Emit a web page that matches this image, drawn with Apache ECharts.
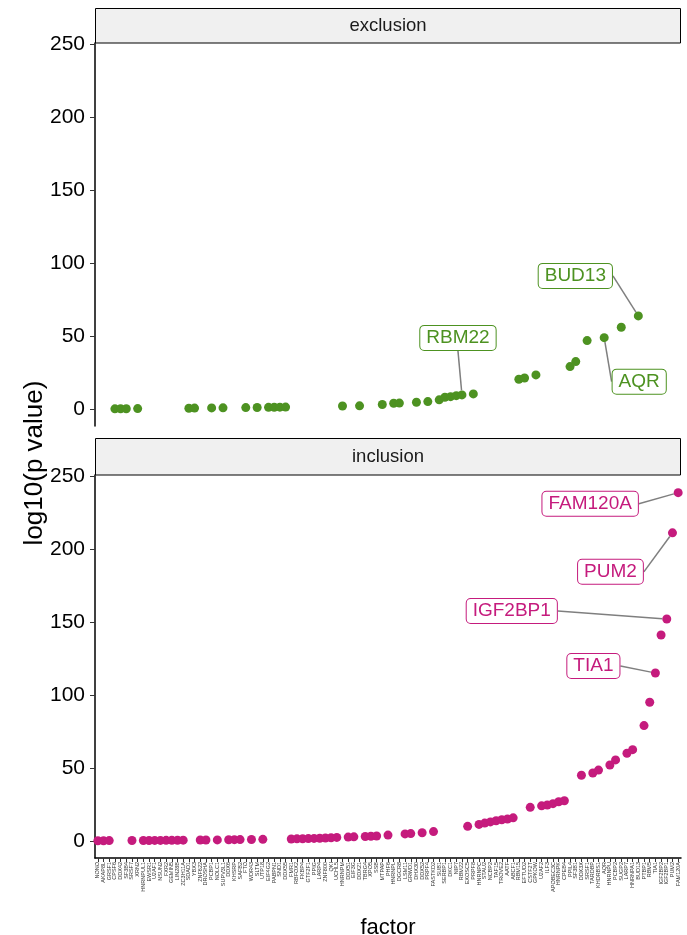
<!DOCTYPE html>
<html><head><meta charset="utf-8">
<script src="https://cdn.jsdelivr.net/npm/echarts@6/dist/echarts.min.js"></script>
<style>html,body{margin:0;padding:0;background:#fff}#c{width:687px;height:935px}</style>
</head><body><div id="c"></div>
<script>
const factors = [
 'NONO','AKAP8L','GRSF1','CPSF6','DDX42','SF3B4','SRSF7','XRN2','HNRNPUL1','EWSR1',
 'U2AF1','NSUN2','FXR2','GEMIN5','LIN28B','ZC3H11A','SDAD1','YBX3','ZNF622','DROSHA',
 'PCBP1','NOLC1','SUPV3L1','DDX6','KHSRP','SAFB2','FTO','WDR43','SLTM','UTP18',
 'EIF4G2','PABPN1','SND1','DDX55','FMR1','RBFOX2','FKBP4','GTF2F1','PPIG','LARP4',
 'ZNF800','QKI','UCHL5','HNRNPM','DDX51','EIF3G','DDX21','TBRG4','XPO5','SSB',
 'MTPAP','PHF6','HNRNPL','DGCR8','LSM11','GRWD1','DHX30','DDX52','PRPF4','FASTKD2',
 'SUB1','SERBP1','DKC1','NIP7','RBM22','EXOSC5','PRPF8','HNRNPC','STAU2','NCBP2',
 'TAF15','TROVE2','AATF','ABCF1','RBM15','EFTUD2','CSTF2T','GPKOW','U2AF2','ILF3',
 'APOBEC3C','HNRNPK','CPEB4','PPIL4','SF3B1','DDX3X','SRSF1','TARDBP','KHDRBS1','AQR',
 'HNRNPU','PCBP2','SUGP2','LARP7','HNRNPA1','BUD13','PTBP1','RBM5','TIA1','IGF2BP2',
 'IGF2BP1','PUM2','FAM120A'
];
const exclusionValues = [
 null,null,null,0.05,0.1,0.12,null,0.2,null,null,
 null,null,null,null,null,null,0.45,0.55,null,null,
 0.7,null,0.75,null,null,null,0.9,null,1.0,null,
 1.1,1.15,1.2,1.25,null,null,null,null,null,null,
 null,null,null,2.0,null,null,2.1,null,null,null,
 3.0,null,3.9,4.0,null,null,4.6,null,5.0,null,
 6.2,8.0,8.4,9.1,9.6,null,10.3,null,null,null,
 null,null,null,null,20.3,21.2,null,23.3,null,null,
 null,null,null,29.0,32.4,null,46.8,null,null,48.8,
 null,null,55.9,null,null,63.7,null,null,null,null,
 null,null,null
];
const inclusionValues = [
 0.1,0.15,0.2,null,null,null,0.25,null,0.3,0.3,
 0.35,0.35,0.4,0.4,0.45,0.5,null,null,0.6,0.65,
 null,0.7,null,0.8,0.85,0.9,null,1.0,null,1.1,
 null,null,null,null,1.3,1.4,1.5,1.6,1.7,1.8,
 2.0,2.2,2.4,null,2.6,2.8,null,3.0,3.2,3.4,
 null,4.0,null,null,4.8,5.0,null,5.6,null,6.4,
 null,null,null,null,null,10.0,null,11.3,12.2,13.0,
 13.8,14.5,15.0,15.8,null,null,23.0,null,24.0,24.6,
 25.5,26.8,27.5,null,null,45.0,null,46.5,48.5,null,
 52.0,55.5,null,60.0,62.5,null,79,95,115,141,
 152,211,238.5
];
const yTicks = [0, 50, 100, 150, 200, 250];
const panels = ['exclusion', 'inclusion'];
const labelledFactors = ['RBM22', 'AQR', 'BUD13', 'TIA1', 'IGF2BP1', 'PUM2', 'FAM120A'];

// label placement (layout only)
const labelShift = {
  RBM22: [-4, -57], AQR: [35, 44], BUD13: [-63, -40],
  FAM120A: [-88, 11], PUM2: [-62, 39], IGF2BP1: [-155, -8], TIA1: [-62, -7]
};
const GREEN = '#4d9221', PINK = '#c51b7d';
const FONT = '"Liberation Sans", Arial, Helvetica, sans-serif';

function buildData(values, color) {
  return values.map((v, i) => {
    if (v === null) return '-';
    const name = factors[i];
    if (labelledFactors.indexOf(name) >= 0) {
      return {
        value: v, name: name,
        label: {
          show: true, formatter: name, position: 'inside',
          color: color, fontSize: 19, fontFamily: FONT,
          backgroundColor: '#fff', borderColor: color, borderWidth: 1,
          borderRadius: 4, padding: [3, 6, 2, 6]
        },
        labelLine: { show: true, lineStyle: { color: '#7f7f7f', width: 1.5 } }
      };
    }
    return v;
  });
}

const chart = echarts.init(document.getElementById('c'), null, { renderer: 'canvas' });
const grids = [
  { left: 95, right: 6, top: 43, height: 383, outerBoundsMode: 'none', containLabel: false },
  { left: 95, right: 6, top: 475, height: 383, outerBoundsMode: 'none', containLabel: false }
];
const yAxisCommon = {
  type: 'value', min: -11.7, max: 250.6,
  splitLine: { show: false },
  axisLine: { show: true, onZero: false, lineStyle: { color: '#000', width: 1.5 } },
  axisTick: { show: true, length: 5, customValues: yTicks, lineStyle: { color: '#333', width: 1 } },
  axisLabel: { customValues: yTicks, color: '#000', fontSize: 21, fontFamily: FONT, margin: 10 }
};
const option = {
  animation: false,
  backgroundColor: '#fff',
  grid: grids,
  xAxis: [
    { type: 'category', gridIndex: 0, data: factors, boundaryGap: true,
      axisLine: { show: false, onZero: false }, axisTick: { show: false }, axisLabel: { show: false }, splitLine: { show: false } },
    { type: 'category', gridIndex: 1, data: factors, boundaryGap: true,
      axisLine: { show: true, onZero: false, lineStyle: { color: '#000', width: 1.5 } },
      axisTick: { show: true, length: 4, alignWithLabel: true, interval: 0, lineStyle: { color: '#333' } },
      axisLabel: { interval: 0, rotate: 90, fontSize: 5.5, color: '#333', fontFamily: FONT, margin: 4 },
      name: 'factor', nameLocation: 'middle', nameGap: 59,
      nameTextStyle: { fontSize: 22, color: '#000', fontFamily: FONT }
    }
  ],
  yAxis: [
    Object.assign({ gridIndex: 0 }, yAxisCommon),
    Object.assign({ gridIndex: 1 }, yAxisCommon)
  ],
  series: [
    { type: 'scatter', name: panels[0], xAxisIndex: 0, yAxisIndex: 0, symbolSize: 9,
      itemStyle: { color: GREEN, opacity: 1 }, data: buildData(exclusionValues, GREEN),
      labelLayout: p => { const s = labelShift[factors[p.dataIndex]] || [0, 0]; return { dx: s[0], dy: s[1] }; },
      emphasis: { disabled: true } },
    { type: 'scatter', name: panels[1], xAxisIndex: 1, yAxisIndex: 1, symbolSize: 9,
      itemStyle: { color: PINK, opacity: 1 }, data: buildData(inclusionValues, PINK),
      labelLayout: p => { const s = labelShift[factors[p.dataIndex]] || [0, 0]; return { dx: s[0], dy: s[1] }; },
      emphasis: { disabled: true } }
  ],
  graphic: [
    { type: 'rect', shape: { x: 95.5, y: 8.5, width: 585, height: 34.5 }, style: { fill: '#f0f0f0', stroke: '#000', lineWidth: 1 } },
    { type: 'text', x: 388, y: 26, style: { text: panels[0], fontSize: 18.5, fontFamily: FONT, fill: '#1a1a1a', align: 'center', verticalAlign: 'middle' } },
    { type: 'rect', shape: { x: 95.5, y: 438.5, width: 585, height: 36.5 }, style: { fill: '#f0f0f0', stroke: '#000', lineWidth: 1 } },
    { type: 'text', x: 388, y: 457, style: { text: panels[1], fontSize: 18.5, fontFamily: FONT, fill: '#1a1a1a', align: 'center', verticalAlign: 'middle' } },
    { type: 'text', x: 35, y: 463, rotation: Math.PI / 2, style: { text: 'log10(p value)', fontSize: 26, fontFamily: FONT, fill: '#000', align: 'center', verticalAlign: 'middle' } }
  ]
};
chart.setOption(option);
</script>
</body></html>
